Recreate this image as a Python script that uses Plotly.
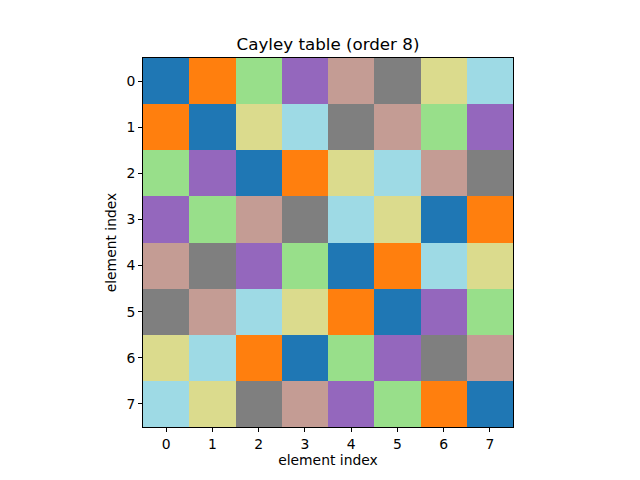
import plotly.graph_objects as go

# ── Data ─────────────────────────────────────────────────────────────────────

elements = [0, 1, 2, 3, 4, 5, 6, 7]
tick_labels = ["0", "1", "2", "3", "4", "5", "6", "7"]

# products a*b, row a, column b
cayley = [
    [0, 1, 2, 3, 4, 5, 6, 7],
    [1, 0, 6, 7, 5, 4, 2, 3],
    [2, 3, 0, 1, 6, 7, 4, 5],
    [3, 2, 4, 5, 7, 6, 0, 1],
    [4, 5, 3, 2, 0, 1, 7, 6],
    [5, 4, 7, 6, 1, 0, 3, 2],
    [6, 7, 1, 0, 2, 3, 5, 4],
    [7, 6, 5, 4, 3, 2, 1, 0],
]

# tab20 colours picked for values 0..7
cell_colors = ["#1f77b4", "#ff7f0e", "#98df8a", "#9467bd",
               "#c49c94", "#7f7f7f", "#dbdb8d", "#9edae5"]

# ── Figure ───────────────────────────────────────────────────────────────────

n = len(cell_colors)
colorscale = []
for i, c in enumerate(cell_colors):
    colorscale.append([i / n, c])
    colorscale.append([(i + 1) / n, c])

fig = go.Figure(go.Heatmap(
    z=cayley,
    x=elements,
    y=elements,
    colorscale=colorscale,
    zmin=-0.5,
    zmax=n - 0.5,
    showscale=False,
    hoverinfo="skip",
))

axis_common = dict(
    showline=True, linecolor="black", linewidth=1, mirror=True,
    ticks="outside", ticklen=4, tickwidth=1, tickcolor="black",
    showgrid=False, zeroline=False,
    tickmode="array", tickvals=elements, ticktext=tick_labels,
    tickfont=dict(size=13.9, color="black"),
    title_font=dict(size=13.9, color="black"),
    title_text="element index",
)

fig.update_layout(
    width=640,
    height=480,
    margin=dict(l=143, r=127, t=58, b=53),
    paper_bgcolor="white",
    plot_bgcolor="white",
    font=dict(family="DejaVu Sans", color="black"),
    title=dict(
        text="Cayley table (order 8)",
        x=0.5, xref="paper", xanchor="center",
        y=1, yref="paper", yanchor="bottom",
        pad=dict(b=8),
        font=dict(size=16.7, color="black"),
    ),
)
fig.update_xaxes(range=[-0.5, 7.5], title_standoff=4, **axis_common)
fig.update_yaxes(range=[7.5, -0.5], title_standoff=6, **axis_common)

# drop the page's default body margin so the figure sits at the window corner
fig.write_html("out.html",
               config={"displayModeBar": False},
               post_script="document.body.style.margin='0';")
